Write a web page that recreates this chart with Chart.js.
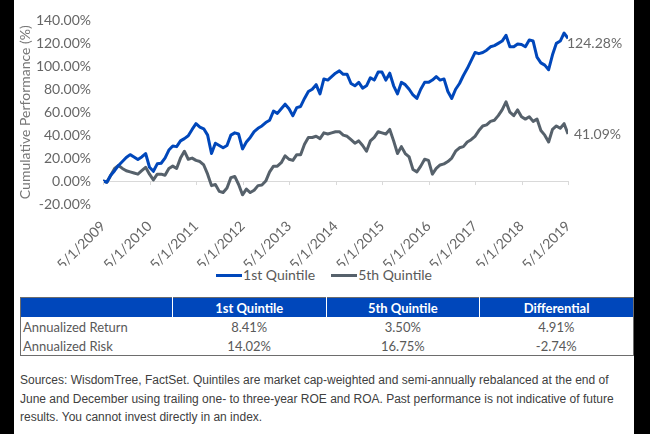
<!DOCTYPE html>
<html>
<head>
<meta charset="utf-8">
<script src="https://cdn.jsdelivr.net/npm/chart.js@4.4.0/dist/chart.umd.min.js"></script>
<style>
    html, body { margin: 0; padding: 0; }
    body { width: 650px; height: 434px; background: #000; position: relative; overflow: hidden; }
    #page { position: absolute; left: 14px; top: 0; width: 620px; height: 434px; background: #fff; }
    #chart-box { position: absolute; left: 0; top: 0; width: 620px; height: 266px; }
    #legend { position: absolute; left: 0; top: 266px; width: 620px; text-align: center; font-family: Lato, sans-serif;
              font-size: 14px; line-height: 18px; color: #595959; }
    #legend .item { display: inline-block; margin: 0 8px; }
    #legend .swatch { display: inline-block; width: 26px; height: 3px; vertical-align: middle; margin-right: 1px; position: relative; top: -1px; }
    #stats { position: absolute; left: 6px; top: 297px; width: 614px; border-collapse: collapse; border: 1px solid #6d6d6d;
             font-family: Lato, sans-serif; font-size: 13px; color: #595959; }
    #stats th { background: #0047bb; color: #fff; font-weight: bold; height: 19px; padding: 0; border-left: 1px solid #fff; }
    #stats th:first-child { border-left: none; }
    #stats td { height: 19px; padding: 0; text-align: center; }
    #stats td:first-child { text-align: left; padding-left: 2px; }
    #note { position: absolute; left: 6px; top: 371px; width: 612px; font-family: "Liberation Sans", Arial, sans-serif;
            font-size: 12px; line-height: 18.5px; color: #404040; }
</style>
</head>
<body>
<div id="page">
    <div id="chart-box"><canvas id="perf-chart"></canvas></div>
    <div id="legend"></div>
    <table id="stats">
        <thead><tr id="stats-head"></tr></thead>
        <tbody id="stats-body"></tbody>
    </table>
    <div id="note">Sources: WisdomTree, FactSet. Quintiles are market cap-weighted and semi-annually rebalanced at the end of<br>June and December using trailing one- to three-year ROE and ROA. Past performance is not indicative of future<br>results. You cannot invest directly in an index.</div>
</div>
<script>
// monthly points, 5/2009 .. 5/2019
const yearTicks = ['5/1/2009', '5/1/2010', '5/1/2011', '5/1/2012', '5/1/2013', '5/1/2014',
    '5/1/2015', '5/1/2016', '5/1/2017', '5/1/2018', '5/1/2019'];

const firstQuintile = [
    0, -1, 5, 9, 13.6, 17, 20.5, 23, 21, 18.8, 21, 24,
    12, 8.5, 15, 15.5, 20, 27, 30.5, 30, 35, 37, 39.5, 45,
    50, 47, 45.5, 40, 24, 33, 31, 29, 31, 40, 42, 41,
    28, 34, 38, 43, 46, 48, 51, 53, 61, 59, 63, 67,
    63, 57, 64, 65, 72, 78, 80, 84, 76, 89, 88, 91,
    94, 96, 93, 93, 85, 83, 86, 81, 83, 90, 88, 95,
    95, 88, 94, 83, 76, 86, 84, 80, 75, 72, 80, 86,
    86, 88, 91, 88, 89, 78, 72, 80, 85, 92, 98, 105,
    112, 111, 112, 114, 117, 118, 120, 122, 127, 117, 117, 119.5,
    119, 117, 123, 122, 108, 103, 101, 97, 110, 120, 122, 129,
    124.28
];

const fifthQuintile = [
    0, -1, 5, 11, 13.6, 11, 9, 8, 7, 6, 9, 12,
    6, 1, 6, 6, 5, 11, 13, 11, 20, 26, 19, 20,
    18, 17, 14, 6, -4, -3, -9, -10, -6, 3, 4, -3,
    -12, -7, -10, -8, -4, -3.5, 0, 8, 13, 13, 16, 22,
    19, 18, 23, 23, 32, 38, 38, 39, 37, 42, 41, 42,
    43, 43, 40, 39, 36, 33, 35, 31, 26, 35, 38, 43,
    42, 41, 45, 35, 24, 30, 24, 21, 10, 8, 13, 19,
    18, 6, 11, 14, 15, 17, 20, 26, 29, 30, 34, 36,
    39, 44, 48, 49, 52, 53, 57, 62, 69, 60, 57, 62,
    56, 54, 56, 52, 54, 44, 40, 34, 45, 48, 46, 50,
    41.09
];

const seriesNames = ['1st Quintile', '5th Quintile'];
const seriesColors = ['#0047bb', '#56616b'];

const tableHead = ['', '1st Quintile', '5th Quintile', 'Differential'];
const returnRow = ['Annualized Return', '8.41%', '3.50%', '4.91%'];
const riskRow = ['Annualized Risk', '14.02%', '16.75%', '-2.74%'];

document.getElementById('stats-head').innerHTML = tableHead.map(function (h, i) {
    return `<th style="width:${i === 0 ? 152 : 154}px">${h}</th>`;
}).join('');
document.getElementById('stats-body').innerHTML = [returnRow, riskRow].map(function (row) {
    return '<tr>' + row.map(function (c) { return `<td>${c}</td>`; }).join('') + '</tr>';
}).join('');

document.getElementById('legend').innerHTML = seriesNames.map(function (name, i) {
    return `<span class="item"><span class="swatch" style="background:${seriesColors[i]}"></span>${name}</span>`;
}).join('');

// little tick marks hanging under the 0% line
const yearMarks = {
    id: 'yearMarks',
    afterDraw: function (chart) {
        const x = chart.scales.x, y = chart.scales.y;
        const y0 = y.getPixelForValue(0);
        const c = chart.ctx;
        c.save();
        c.strokeStyle = '#d9d9d9';
        c.lineWidth = 1;
        x.ticks.forEach(function (t) {
            const px = Math.round(x.getPixelForValue(t.value)) + 0.5;
            c.beginPath();
            c.moveTo(px, y0);
            c.lineTo(px, y0 + 4);
            c.stroke();
        });
        c.restore();
    }
};

// final values written at the end of each line
const endLabels = {
    id: 'endLabels',
    afterDatasetsDraw: function (chart) {
        const c = chart.ctx;
        c.save();
        c.font = '14px Lato';
        c.fillStyle = '#6a6a6a';
        c.textBaseline = 'middle';
        chart.data.datasets.forEach(function (ds, i) {
            const meta = chart.getDatasetMeta(i);
            const pt = meta.data[meta.data.length - 1];
            const v = ds.data[ds.data.length - 1].y;
            c.fillText(v.toFixed(2) + '%', pt.x + (i === 0 ? -1 : 6), pt.y + (i === 0 ? 5 : 1));
        });
        c.restore();
    }
};

const ctx = document.getElementById('perf-chart').getContext('2d');
new Chart(ctx, {
    type: 'line',
    data: {
        datasets: [firstQuintile, fifthQuintile].map(function (vals, i) {
            return {
                label: seriesNames[i],
                data: vals.map(function (v, m) { return { x: m, y: v }; }),
                borderColor: seriesColors[i],
                backgroundColor: seriesColors[i],
                borderWidth: 3,
                pointRadius: 0,
                tension: 0,
                borderJoinStyle: 'round'
            };
        })
    },
    options: {
        animation: false,
        responsive: true,
        maintainAspectRatio: false,
        layout: { padding: { top: 10, right: 66, left: 0, bottom: 0 } },
        plugins: {
            tooltip: { enabled: false },
            legend: { display: false }
        },
        scales: {
            x: {
                type: 'linear',
                min: 0,
                max: 120,
                grid: { display: false },
                border: { display: false },
                afterFit: function (s) { s.height = 62; },
                ticks: {
                    stepSize: 12,
                    autoSkip: false,
                    maxRotation: 45,
                    minRotation: 45,
                    padding: 6,
                    color: '#666',
                    font: { family: 'Lato', size: 14 },
                    callback: function (v) { return yearTicks[v / 12]; }
                }
            },
            y: {
                min: -20,
                max: 140,
                border: { display: false },
                afterFit: function (s) { s.width = 89; },
                grid: {
                    drawTicks: false,
                    color: function (c) { return c.tick && c.tick.value === 0 ? '#d9d9d9' : 'rgba(0,0,0,0)'; }
                },
                ticks: {
                    stepSize: 20,
                    autoSkip: false,
                    padding: 12,
                    color: '#666',
                    font: { family: 'Lato', size: 14 },
                    callback: function (v) { return v.toFixed(2) + '%'; }
                },
                title: {
                    display: true,
                    text: 'Cumulative Performance (%)',
                    color: '#777',
                    font: { family: 'Lato', size: 14 },
                    padding: { top: 3, bottom: 0 }
                }
            }
        }
    },
    plugins: [yearMarks, endLabels]
});
</script>
</body>
</html>
